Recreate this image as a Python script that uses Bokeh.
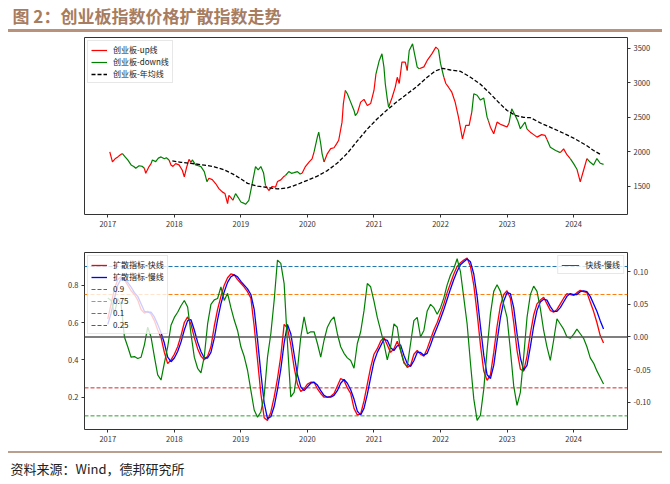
import numpy as np
from bokeh.plotting import figure
from bokeh.models import (Range1d, LinearAxis, FixedTicker, NumeralTickFormatter,
                          Legend, LegendItem, Span, ColumnDataSource, Title, Div)
from bokeh.layouts import column
from bokeh.embed import file_html
from bokeh.resources import INLINE

# ---------------- data ----------------
title_text = "图 2：创业板指数价格扩散指数走势"
source_text = "资料来源：Wind，德邦研究所"
year_ticks = [2017, 2018, 2019, 2020, 2021, 2022, 2023, 2024]
price_ticks = [1500, 2000, 2500, 3000, 3500]
left_ticks = [0.2, 0.4, 0.6, 0.8]
right_ticks = [-0.10, -0.05, 0.0, 0.05, 0.10]

price_year = [2017.03, 2017.07, 2017.11, 2017.15, 2017.19, 2017.22, 2017.26, 2017.30, 2017.35, 2017.39,
              2017.42, 2017.47, 2017.52, 2017.55, 2017.57, 2017.62, 2017.65, 2017.67, 2017.72, 2017.76,
              2017.80, 2017.85, 2017.88, 2017.92, 2017.95, 2017.98, 2018.02, 2018.07, 2018.12, 2018.15,
              2018.18, 2018.22, 2018.25, 2018.27, 2018.32, 2018.36, 2018.40, 2018.45, 2018.49, 2018.52,
              2018.57, 2018.62, 2018.67, 2018.72, 2018.76, 2018.80, 2018.82, 2018.85, 2018.88, 2018.92,
              2018.96, 2019.00, 2019.04, 2019.07, 2019.12, 2019.17, 2019.22, 2019.26, 2019.30, 2019.34,
              2019.37, 2019.42, 2019.47, 2019.52, 2019.55, 2019.60, 2019.64, 2019.67, 2019.72, 2019.76,
              2019.80, 2019.85, 2019.89, 2019.92, 2019.97, 2020.03, 2020.07, 2020.10, 2020.15, 2020.17,
              2020.20, 2020.22, 2020.25, 2020.30, 2020.35, 2020.40, 2020.44, 2020.47, 2020.52, 2020.54,
              2020.57, 2020.60, 2020.65, 2020.70, 2020.72, 2020.75, 2020.80, 2020.85, 2020.90, 2020.95,
              2021.00, 2021.03, 2021.08, 2021.12, 2021.15, 2021.17, 2021.20, 2021.22, 2021.27, 2021.32,
              2021.35, 2021.38, 2021.42, 2021.47, 2021.50, 2021.53, 2021.58, 2021.61, 2021.65, 2021.68,
              2021.75, 2021.80, 2021.87, 2021.93, 2021.97, 2022.00, 2022.05, 2022.08, 2022.12, 2022.17,
              2022.22, 2022.27, 2022.33, 2022.38, 2022.43, 2022.47, 2022.50, 2022.55, 2022.60, 2022.65,
              2022.70, 2022.72, 2022.75, 2022.80, 2022.85, 2022.90, 2022.95, 2023.00, 2023.03, 2023.07,
              2023.12, 2023.16, 2023.20, 2023.27, 2023.30, 2023.35, 2023.40, 2023.45, 2023.52, 2023.57,
              2023.60, 2023.65, 2023.73, 2023.80, 2023.85, 2023.90, 2023.95, 2024.00, 2024.05, 2024.10,
              2024.15, 2024.20, 2024.25, 2024.30, 2024.35, 2024.40, 2024.45]
price_close = [2000, 1855, 1900, 1928, 1960, 1976, 1930, 1884, 1812, 1790,
               1764, 1800, 1790, 1764, 1692, 1788, 1830, 1884, 1860, 1910,
               1928, 1900, 1915, 1884, 1812, 1790, 1830, 1812, 1735, 1639,
               1760, 1893, 1850, 1884, 1812, 1800, 1788, 1716, 1571, 1620,
               1600, 1543, 1470, 1422, 1400, 1253, 1373, 1340, 1301, 1397,
               1340, 1275, 1260, 1242, 1301, 1543, 1788, 1740, 1788, 1700,
               1514, 1442, 1500, 1490, 1571, 1596, 1640, 1659, 1716, 1690,
               1700, 1716, 1680, 1692, 1788, 1860, 1900, 2000, 2218, 2286,
               2118, 1976, 1855, 1976, 2048, 2060, 2120, 2169, 2431, 2697,
               2889, 2841, 2720, 2600, 2527, 2560, 2720, 2760, 2672, 2700,
               2889, 3130, 3323, 3419, 3227, 2986, 2768, 2648, 2780, 2938,
               3080, 2990, 3299, 3300, 3178, 3467, 3563, 3419, 3227, 3202,
               3230, 3323, 3419, 3515, 3480, 3280, 3080, 2990, 2936, 2864,
               2720, 2503, 2190, 2383, 2383, 2575, 2841, 2820, 2750, 2780,
               2503, 2450, 2358, 2263, 2431, 2400, 2380, 2360, 2420, 2624,
               2530, 2450, 2335, 2430, 2330, 2286, 2250, 2214, 2250, 2240,
               2180, 2069, 2020, 1990, 2044, 1960, 1904, 1830, 1750, 1566,
               1735, 1904, 1850, 1810, 1904, 1836, 1820]
U, D = "up", "down"
price_trend = [U, U, U, U, U, D, D, D, D, D,
               D, D, D, U, U, U, D, D, D, D,
               D, D, D, U, U, U, U, U, U, U,
               U, U, D, D, D, D, D, D, U, U,
               U, U, U, U, U, U, U, U, D, D,
               D, D, D, D, D, D, D, D, D, D,
               U, U, U, U, U, U, U, D, D, D,
               D, D, D, U, U, U, U, D, D, D,
               D, D, U, U, U, U, U, U, U, U,
               D, D, D, D, D, U, U, U, U, U,
               U, D, D, D, D, D, D, U, U, U,
               U, U, U, U, D, D, D, D, D, U,
               U, U, U, U, D, D, U, U, U, U,
               U, U, U, U, U, D, D, D, D, D,
               D, U, U, U, U, U, U, U, D, D,
               D, D, D, D, U, U, U, U, U, U,
               D, D, D, U, U, U, D, D, U, U,
               U, D, D, D, D, D, D]

ma_year = [2017.97, 2018.10, 2018.25, 2018.45, 2018.60, 2018.75, 2018.88, 2019.00, 2019.10, 2019.25,
           2019.40, 2019.55, 2019.70, 2019.85, 2020.00, 2020.15, 2020.30, 2020.45, 2020.60, 2020.75,
           2020.90, 2021.05, 2021.20, 2021.35, 2021.50, 2021.65, 2021.80, 2021.92, 2022.03, 2022.15,
           2022.30, 2022.45, 2022.60, 2022.75, 2022.88, 2023.00, 2023.12, 2023.25, 2023.35, 2023.50,
           2023.70, 2023.85, 2024.00, 2024.20, 2024.30, 2024.42]
ma_value = [1870, 1850, 1835, 1810, 1785, 1740, 1680, 1610, 1545, 1505,
            1485, 1465, 1480, 1530, 1590, 1650, 1730, 1840, 1980, 2160,
            2330, 2480, 2610, 2730, 2840, 2950, 3080, 3170, 3210, 3185,
            3165, 3080, 2980, 2840, 2710, 2600, 2530, 2500, 2495, 2420,
            2335, 2270, 2200, 2090, 2020, 1955]

# diffusion index, sampled every 0.05 year from 2017.00 to 2024.45
index_year = [round(2017.0 + 0.05 * k, 2) for k in range(150)]
fast_line = [0.62, 0.70, 0.78, 0.83, 0.845, 0.83, 0.80, 0.77, 0.75, 0.72,
             0.67, 0.65, 0.66, 0.645, 0.61, 0.56, 0.52, 0.44, 0.38, 0.40,
             0.43, 0.47, 0.53, 0.60, 0.63, 0.59, 0.52, 0.46, 0.42, 0.40,
             0.42, 0.47, 0.58, 0.67, 0.74, 0.80, 0.84, 0.86, 0.855, 0.83,
             0.81, 0.79, 0.765, 0.73, 0.58, 0.40, 0.22, 0.09, 0.075, 0.12,
             0.20, 0.30, 0.42, 0.59, 0.57, 0.48, 0.36, 0.27, 0.23, 0.245,
             0.27, 0.28, 0.28, 0.245, 0.22, 0.20, 0.20, 0.205, 0.22, 0.26,
             0.30, 0.29, 0.25, 0.22, 0.14, 0.105, 0.11, 0.18, 0.27, 0.36,
             0.43, 0.46, 0.50, 0.52, 0.48, 0.44, 0.46, 0.50, 0.45, 0.39,
             0.36, 0.37, 0.43, 0.45, 0.43, 0.42, 0.46, 0.51, 0.56, 0.60,
             0.65, 0.70, 0.76, 0.81, 0.86, 0.90, 0.92, 0.935, 0.945, 0.90,
             0.80, 0.65, 0.48, 0.34, 0.29, 0.32, 0.44, 0.58, 0.69, 0.75,
             0.77, 0.73, 0.60, 0.45, 0.35, 0.34, 0.42, 0.54, 0.64, 0.70,
             0.72, 0.735, 0.70, 0.665, 0.655, 0.67, 0.70, 0.73, 0.755, 0.75,
             0.745, 0.76, 0.772, 0.765, 0.76, 0.71, 0.66, 0.60, 0.53, 0.49]
slow_line = [0.59, 0.65, 0.73, 0.80, 0.835, 0.835, 0.815, 0.79, 0.76, 0.74,
             0.70, 0.66, 0.655, 0.655, 0.63, 0.59, 0.545, 0.49, 0.415, 0.39,
             0.41, 0.445, 0.495, 0.56, 0.61, 0.615, 0.56, 0.495, 0.445, 0.41,
             0.41, 0.44, 0.515, 0.615, 0.70, 0.765, 0.815, 0.845, 0.855, 0.845,
             0.82, 0.80, 0.78, 0.75, 0.67, 0.51, 0.33, 0.17, 0.085, 0.095,
             0.15, 0.24, 0.35, 0.49, 0.59, 0.54, 0.43, 0.32, 0.255, 0.235,
             0.255, 0.275, 0.28, 0.265, 0.235, 0.21, 0.20, 0.20, 0.21, 0.235,
             0.275, 0.295, 0.275, 0.24, 0.19, 0.125, 0.105, 0.14, 0.215, 0.305,
             0.39, 0.44, 0.475, 0.51, 0.505, 0.465, 0.45, 0.475, 0.48, 0.425,
             0.38, 0.365, 0.395, 0.44, 0.44, 0.425, 0.435, 0.48, 0.53, 0.575,
             0.62, 0.67, 0.725, 0.78, 0.83, 0.875, 0.91, 0.925, 0.94, 0.925,
             0.86, 0.74, 0.58, 0.425, 0.32, 0.30, 0.37, 0.50, 0.625, 0.715,
             0.76, 0.755, 0.68, 0.54, 0.41, 0.345, 0.37, 0.47, 0.58, 0.665,
             0.71, 0.725, 0.72, 0.685, 0.66, 0.66, 0.68, 0.71, 0.74, 0.755,
             0.75, 0.75, 0.765, 0.77, 0.765, 0.74, 0.70, 0.66, 0.61, 0.565]
diff_line = [0.06, 0.056, 0.036, 0.059, 0.05, 0.0, -0.015, -0.031, -0.03, -0.033,
             -0.031, -0.012, 0.015, 0.0, -0.03, -0.058, -0.066, -0.04, -0.015, 0.018,
             0.03, 0.038, 0.048, 0.056, 0.046, 0.005, -0.031, -0.048, -0.055, -0.03,
             0.02, 0.05, 0.057, 0.059, 0.077, 0.056, 0.067, 0.045, 0.026, 0.01,
             -0.015, -0.03, -0.051, -0.082, -0.112, -0.123, -0.115, -0.09, -0.031, 0.005,
             0.056, 0.118, 0.113, 0.082, -0.01, -0.092, -0.085, -0.05, 0.0, 0.031,
             0.005, 0.008, 0.008, -0.01, -0.031, -0.005, 0.015, 0.025, 0.031, 0.005,
             -0.015, -0.025, -0.032, -0.036, -0.048, -0.01, 0.008, 0.04, 0.082, 0.077,
             0.055, 0.03, 0.01, -0.01, -0.035, -0.015, 0.02, 0.015, -0.02, -0.04,
             -0.045, -0.01, 0.025, 0.03, 0.0, 0.01, 0.04, 0.05, 0.045, 0.035,
             0.045, 0.06, 0.08, 0.095, 0.105, 0.12, 0.1, 0.06, 0.02, -0.04,
             -0.095, -0.128, -0.12, -0.08, -0.02, 0.035, 0.07, 0.08, 0.07, 0.05,
             0.03, -0.02, -0.075, -0.105, -0.085, -0.03, 0.03, 0.065, 0.078, 0.07,
             0.044, 0.01, -0.015, -0.036, -0.005, 0.028, 0.02, 0.012, 0.0, -0.002,
             0.004, 0.012, 0.005, -0.002, -0.015, -0.032, -0.04, -0.052, -0.062, -0.072]

thresholds = [0.9, 0.75, 0.1, 0.25]
threshold_labels = ["0.9", "0.75", "0.1", "0.25"]
threshold_colors = ["#1f77b4", "#ff7f0e", "#2ca02c", "#d62728"]

# ---------------- styling helpers ----------------
FONT = "Noto Sans CJK SC"
W = 670
XR = (2016.65, 2024.81)
BL, BR = 84, 43


def style_axis(ax):
    ax.axis_line_color = None
    ax.major_tick_line_color = "#333333"
    ax.major_tick_out = 3
    ax.major_tick_in = 0
    ax.minor_tick_line_color = None
    ax.major_label_text_font = FONT
    ax.major_label_text_font_size = "7.5px"
    ax.major_label_text_color = "#333333"
    ax.major_label_standoff = 3


def style_legend(lg):
    lg.label_text_font = FONT
    lg.label_text_font_size = "8px"
    lg.label_text_color = "#222222"
    lg.label_height = 10
    lg.glyph_height = 10
    lg.glyph_width = 16
    lg.label_standoff = 6
    lg.spacing = 1
    lg.padding = 3
    lg.margin = 3
    lg.border_line_color = "#d0d0d0"
    lg.border_line_width = 1
    lg.background_fill_alpha = 0.8


def text_fig(height, top_border, title):
    f = figure(width=W, height=height, title=title, toolbar_location=None, output_backend="svg",
               min_border_left=BL, min_border_right=BR, min_border_top=top_border,
               min_border_bottom=0, x_axis_location=None, y_axis_location=None,
               x_range=Range1d(0, 1), y_range=Range1d(0, 1))
    f.outline_line_color = None
    f.grid.visible = False
    return f


def bar_div(height, color):
    return Div(text="", width=654, height=height, margin=(0, 8, 0, 8),
               styles={"background-color": color, "min-height": "%dpx" % height})


# ---------------- header ----------------
hdr_title = Title(text=title_text, align="left", offset=12 - BL, text_font=FONT,
                  text_font_size="17px", text_font_style="bold", text_color="#a87c5f",
                  standoff=0, vertical_align="bottom")
hdr = text_fig(29, 25, hdr_title)
bar1 = bar_div(3, "#b8927a")

# ---------------- top: price ----------------
p1 = figure(width=W, height=208, x_range=Range1d(*XR), y_range=Range1d(1095, 3655),
            toolbar_location=None, output_backend="svg",
            min_border_left=BL, min_border_right=BR, min_border_top=5, min_border_bottom=26,
            y_axis_location="right")
p1.grid.visible = False
p1.outline_line_color = "#333333"
p1.outline_line_width = 1
p1.xaxis.ticker = FixedTicker(ticks=year_ticks)
p1.xaxis.formatter = NumeralTickFormatter(format="0")
p1.yaxis.ticker = FixedTicker(ticks=price_ticks)
p1.yaxis.formatter = NumeralTickFormatter(format="0")
for ax in p1.xaxis + p1.yaxis:
    style_axis(ax)

xs_up, ys_up, xs_dn, ys_dn = [], [], [], []
n = len(price_year)
i = 0
while i < n - 1:
    j = i
    while j + 1 < n - 1 and price_trend[j + 1] == price_trend[i]:
        j += 1
    sx = price_year[i:j + 2]
    sy = price_close[i:j + 2]
    if price_trend[i] == "up":
        xs_up.append(sx); ys_up.append(sy)
    else:
        xs_dn.append(sx); ys_dn.append(sy)
    i = j + 1

r_up = p1.multi_line(xs="xs", ys="ys", source=ColumnDataSource(dict(xs=xs_up, ys=ys_up)),
                     line_color="#ff0000", line_width=1.2)
r_dn = p1.multi_line(xs="xs", ys="ys", source=ColumnDataSource(dict(xs=xs_dn, ys=ys_dn)),
                     line_color="#008000", line_width=1.2)
r_ma = p1.line(ma_year, ma_value, line_color="#000000", line_width=1.3, line_dash="4 2")
lg1 = Legend(items=[LegendItem(label="创业板-up线", renderers=[r_up]),
                    LegendItem(label="创业板-down线", renderers=[r_dn]),
                    LegendItem(label="创业板-年均线", renderers=[r_ma])],
             location="top_left")
style_legend(lg1)
p1.add_layout(lg1)

# ---------------- bottom: diffusion index ----------------
p2 = figure(width=W, height=211, x_range=Range1d(*XR), y_range=Range1d(0.027, 0.975),
            toolbar_location=None, output_backend="svg",
            min_border_left=BL, min_border_right=BR, min_border_top=12, min_border_bottom=22)
p2.grid.visible = False
p2.outline_line_color = "#333333"
p2.outline_line_width = 1
p2.extra_y_ranges = {"diff": Range1d(-0.1419, 0.1296)}
rax = LinearAxis(y_range_name="diff")
p2.add_layout(rax, "right")
p2.xaxis.ticker = FixedTicker(ticks=year_ticks)
p2.xaxis.formatter = NumeralTickFormatter(format="0")
p2.yaxis[0].ticker = FixedTicker(ticks=left_ticks)
p2.yaxis[0].formatter = NumeralTickFormatter(format="0.0")
rax.ticker = FixedTicker(ticks=right_ticks)
rax.formatter = NumeralTickFormatter(format="0.00")
for ax in p2.xaxis + p2.yaxis:
    style_axis(ax)

th_renderers = []
for lvl, col in zip(thresholds, threshold_colors):
    th_renderers.append(p2.line([XR[0], XR[1]], [lvl, lvl], line_color=col,
                                line_width=1, line_dash="4 2"))
r_fast = p2.line(index_year, fast_line, line_color="#ff0000", line_width=1.3)
r_slow = p2.line(index_year, slow_line, line_color="#0000ff", line_width=1.3)
p2.add_layout(Span(location=0, dimension="width", y_range_name="diff",
                   line_color="#555555", line_width=1.3))
r_diff = p2.line(index_year, diff_line, line_color="#008000", line_width=1.2, y_range_name="diff")

items = [LegendItem(label="扩散指标-快线", renderers=[r_fast]),
         LegendItem(label="扩散指标-慢线", renderers=[r_slow])]
for lab, r in zip(threshold_labels, th_renderers):
    items.append(LegendItem(label=lab, renderers=[r]))
lg2 = Legend(items=items, location="top_left")
style_legend(lg2)
p2.add_layout(lg2)
lg3 = Legend(items=[LegendItem(label="快线-慢线", renderers=[r_diff])], location="top_right")
style_legend(lg3)
lg3.glyph_width = 18
p2.add_layout(lg3)

# ---------------- footer ----------------
bar2 = bar_div(2, "#b8a08c")
ftr_title = Title(text=source_text, align="left", offset=10 - BL, text_font=FONT,
                  text_font_size="13px", text_font_style="normal", text_color="#222222",
                  standoff=0, vertical_align="bottom")
ftr = text_fig(29, 24, ftr_title)

page = column(hdr, bar1, p1, p2, bar2, ftr)
open("out.html", "w").write(file_html(page, INLINE))
